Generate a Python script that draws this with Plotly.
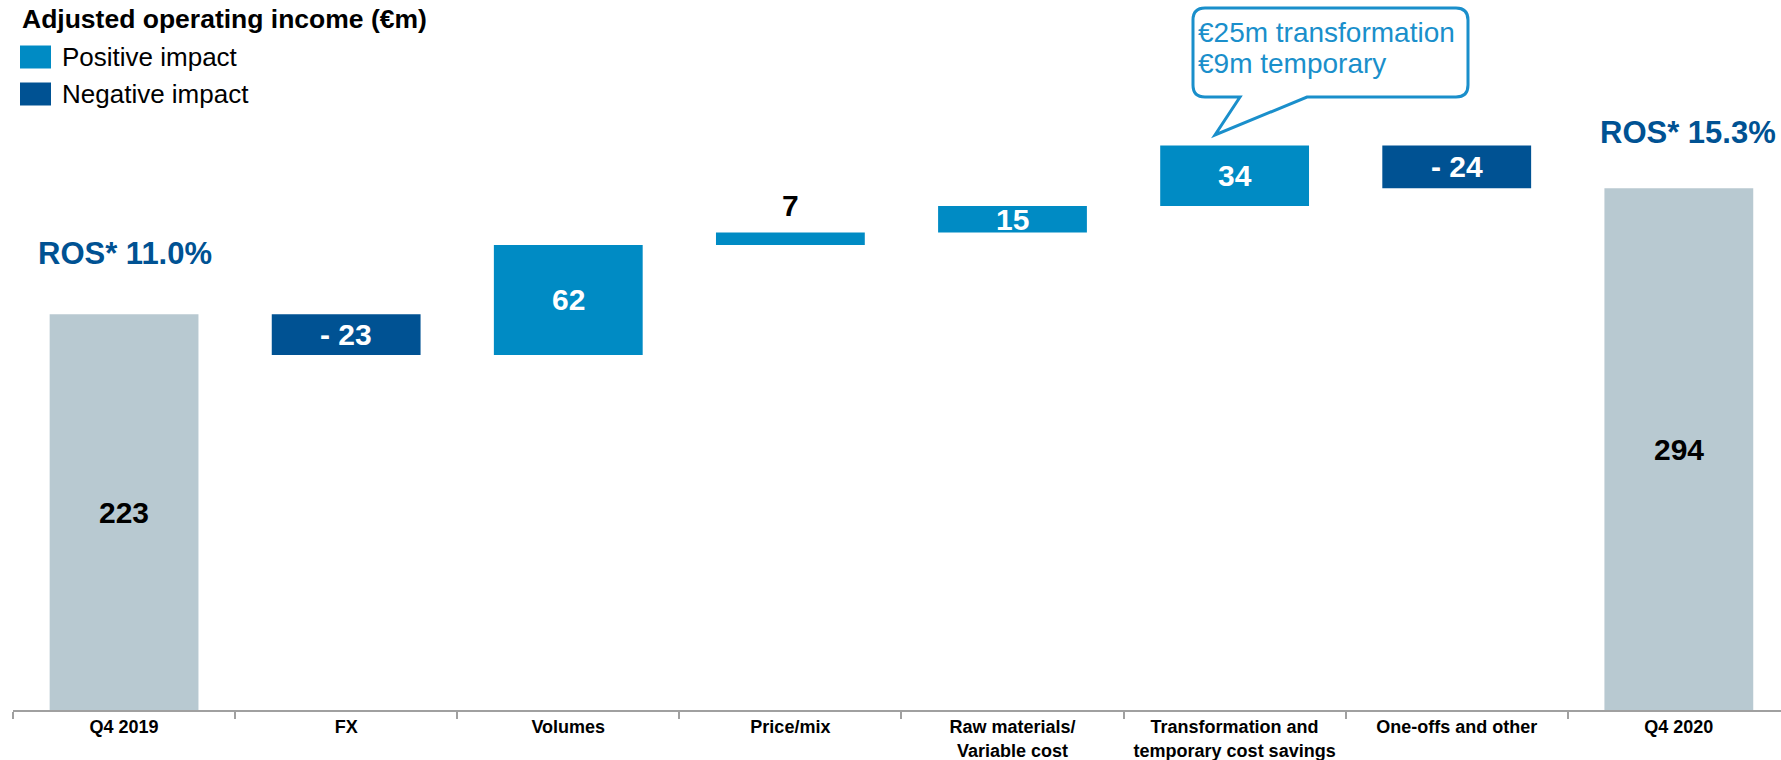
import plotly.graph_objects as go

# ---------------- data ----------------
categories = ["Q4 2019", "FX", "Volumes", "Price/mix", "Raw materials/<br>Variable cost",
              "Transformation and<br>temporary cost savings", "One-offs and other", "Q4 2020"]
start_value = 223
changes = [-23, 62, 7, 15, 34, -24]
end_value = 294
ros_start = "ROS* 11.0%"
ros_end = "ROS* 15.3%"
callout_lines = ["€25m transformation", "€9m temporary"]

# ---------------- style ----------------
C_POS = "#008BC4"
C_NEG = "#005293"
C_TOT = "#B8C9D1"
C_CALL = "#1A8FCB"
FONT = "Liberation Sans, Arial, sans-serif"
W, H = 1781, 760
ML, MB, MT, MR = 13, 50, 0, 0
PW, PH = W - ML - MR, H - MB - MT


def px(x, y):
    """pixel -> paper coordinates"""
    return (x - ML) / PW, (H - MB - y) / PH


# waterfall bases computed from data
bases, heights, colors, labels, lab_col = [], [], [], [], []
bases.append(0); heights.append(start_value); colors.append(C_TOT)
labels.append(str(start_value)); lab_col.append("black")
run = start_value
for v in changes:
    b = run if v >= 0 else run + v
    bases.append(b); heights.append(abs(v))
    colors.append(C_POS if v >= 0 else C_NEG)
    labels.append(str(v) if v >= 0 else f"- {abs(v)}")
    lab_col.append("white")
    run += v
bases.append(0); heights.append(end_value); colors.append(C_TOT)
labels.append(str(end_value)); lab_col.append("black")

fig = go.Figure()
fig.add_trace(go.Bar(x=categories, y=heights, base=bases, marker_color=colors,
                     marker_line_width=0, width=0.67, showlegend=False, hoverinfo="skip"))

annotations = []
for i, (c, b, h, t, col) in enumerate(zip(categories, bases, heights, labels, lab_col)):
    if h < 10:
        annotations.append(dict(x=c, y=b + h, text=f"<b>{t}</b>", showarrow=False,
                                yanchor="bottom", yshift=9,
                                font=dict(family=FONT, size=30, color="black")))
    else:
        annotations.append(dict(x=c, y=b + h / 2, text=f"<b>{t}</b>", showarrow=False,
                                yanchor="middle",
                                font=dict(family=FONT, size=30, color=col)))

# ROS labels
annotations.append(dict(x=categories[0], y=start_value, text=f"<b>{ros_start}</b>", showarrow=False,
                        yanchor="middle", yshift=61, xshift=1,
                        font=dict(family=FONT, size=31, color=C_NEG)))
annotations.append(dict(x=categories[-1], y=end_value, text=f"<b>{ros_end}</b>", showarrow=False,
                        yanchor="middle", yshift=56, xshift=9,
                        font=dict(family=FONT, size=31, color=C_NEG)))

# title
tx, ty = px(20, 19)
annotations.append(dict(xref="paper", yref="paper", x=tx, y=ty, text="<b>Adjusted operating income (€m)</b>",
                        showarrow=False, xanchor="left", yanchor="middle",
                        font=dict(family=FONT, size=26.5, color="black")))
# legend
shapes = []
for (name, col, yc) in [("Positive impact", C_POS, 57), ("Negative impact", C_NEG, 94)]:
    x0, y0 = px(20, yc - 11.5)
    x1, y1 = px(51, yc + 11.5)
    shapes.append(dict(type="rect", xref="paper", yref="paper", x0=x0, x1=x1, y0=y1, y1=y0,
                       fillcolor=col, line_width=0))
    lx, ly = px(60, yc)
    annotations.append(dict(xref="paper", yref="paper", x=lx, y=ly, text=name, showarrow=False,
                            xanchor="left", yanchor="middle",
                            font=dict(family=FONT, size=26, color="black")))

# callout bubble
L, T, R, B, r = 1193, 8, 1468, 97, 12
def P(x, y):
    a, b = px(x, y)
    return f"{a:.5f},{b:.5f}"
path = (f"M {P(L + r, T)} L {P(R - r, T)} Q {P(R, T)} {P(R, T + r)} "
        f"L {P(R, B - r)} Q {P(R, B)} {P(R - r, B)} L {P(1307, B)} L {P(1215, 135)} L {P(1240, B)} "
        f"L {P(L + r, B)} Q {P(L, B)} {P(L, B - r)} L {P(L, T + r)} Q {P(L, T)} {P(L + r, T)} Z")
shapes.append(dict(type="path", xref="paper", yref="paper", path=path,
                   line=dict(color=C_CALL, width=3), fillcolor="white"))
for line, yc in zip(callout_lines, [32, 64]):
    cx, cy = px(1196, yc)
    annotations.append(dict(xref="paper", yref="paper", x=cx, y=cy, text=line, showarrow=False,
                            xanchor="left", yanchor="middle",
                            font=dict(family=FONT, size=28, color=C_CALL)))

fig.update_layout(
    width=W, height=H, margin=dict(l=ML, r=MR, t=MT, b=MB, pad=0),
    paper_bgcolor="white", plot_bgcolor="white",
    annotations=annotations, shapes=shapes, bargap=0.33,
    xaxis=dict(type="category", range=[-0.5, 7.46], showgrid=False, zeroline=False,
               showline=True, linecolor="#A0A0A0", linewidth=1.5,
               ticks="outside", tickson="boundaries", ticklen=7, tickcolor="#A0A0A0", tickwidth=1.5,
               tickfont=dict(family="Liberation Sans Narrow, Arial Narrow, Liberation Sans", size=18,
                             color="black", weight="bold")),
    yaxis=dict(range=[0, 400], visible=False, showgrid=False, zeroline=False, fixedrange=True),
)
fig.write_html("out.html")
